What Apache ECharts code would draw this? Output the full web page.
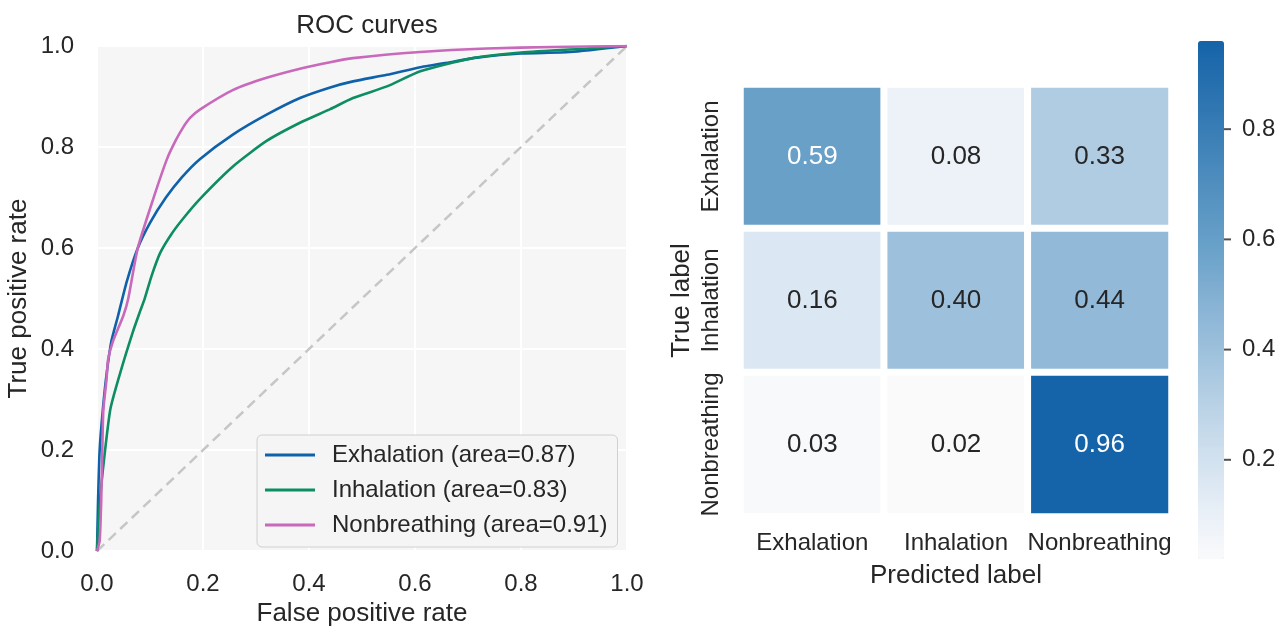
<!DOCTYPE html>
<html>
<head>
<meta charset="utf-8">
<script src="https://cdn.jsdelivr.net/npm/echarts@6/dist/echarts.min.js"></script>
<style>html,body{margin:0;padding:0;background:#fff}#c{width:1288px;height:632px}</style>
</head>
<body>
<div id="c"></div>
<script>
// ---- ROC data ----
const exhalationFpr = [0, 0.002, 0.005, 0.011, 0.018, 0.027, 0.04, 0.056, 0.077, 0.1, 0.13, 0.16, 0.194, 0.257, 0.32, 0.383, 0.44, 0.483, 0.547, 0.61, 0.672, 0.717, 0.80, 0.892, 1];
const exhalationTpr = [0, 0.10, 0.20, 0.28, 0.35, 0.415, 0.467, 0.533, 0.60, 0.65, 0.70, 0.74, 0.776, 0.825, 0.864, 0.897, 0.918, 0.93, 0.943, 0.958, 0.969, 0.977, 0.985, 0.988, 1];
const inhalationFpr = [0, 0.004, 0.011, 0.025, 0.043, 0.068, 0.081, 0.09, 0.103, 0.119, 0.14, 0.163, 0.194, 0.257, 0.32, 0.383, 0.44, 0.483, 0.547, 0.61, 0.704, 0.80, 0.925, 1];
const inhalationTpr = [0, 0.08, 0.16, 0.28, 0.35, 0.435, 0.474, 0.50, 0.545, 0.59, 0.627, 0.659, 0.697, 0.762, 0.812, 0.848, 0.875, 0.897, 0.92, 0.95, 0.975, 0.987, 0.995, 1];
const nonbreathingFpr = [0, 0.005, 0.008, 0.01, 0.012, 0.018, 0.021, 0.03, 0.05, 0.059, 0.077, 0.106, 0.132, 0.148, 0.162, 0.176, 0.194, 0.257, 0.32, 0.383, 0.44, 0.483, 0.61, 0.736, 0.86, 1];
const nonbreathingTpr = [0, 0.02, 0.10, 0.20, 0.28, 0.34, 0.38, 0.415, 0.467, 0.50, 0.60, 0.697, 0.776, 0.812, 0.838, 0.858, 0.874, 0.913, 0.937, 0.955, 0.968, 0.976, 0.988, 0.995, 0.998, 1];
const rocNames = ['Exhalation (area=0.87)', 'Inhalation (area=0.83)', 'Nonbreathing (area=0.91)'];

// ---- confusion matrix ----
const classes = ['Exhalation', 'Inhalation', 'Nonbreathing'];
const matrixRows = [
  [0.59, 0.08, 0.33],
  [0.16, 0.40, 0.44],
  [0.03, 0.02, 0.96]
];
const colorbarMin = 0.02, colorbarMax = 0.96;
const colorbarTicks = [0.2, 0.4, 0.6, 0.8];

const zip = (a, b) => a.map((v, i) => [v, b[i]]);
const heatData = [];
matrixRows.forEach((row, r) => row.forEach((v, c) => heatData.push([c, r, v])));

const FONT = '"Liberation Sans", Arial, sans-serif';
const TXT = '#262626';
const colors = ['#0f61a9', '#0d8d63', '#c869bb'];

const chart = echarts.init(document.getElementById('c'));
chart.setOption({
  backgroundColor: '#ffffff',
  animation: false,
  textStyle: { fontFamily: FONT, color: TXT },
  title: {
    text: 'ROC curves', left: 362, top: 8, textAlign: 'center',
    textStyle: { fontFamily: FONT, fontSize: 26, fontWeight: 'normal', color: TXT }
  },
  legend: {
    data: rocNames, orient: 'vertical', left: 257, top: 435,
    icon: 'rect', itemWidth: 50, itemHeight: 3, itemGap: 11,
    padding: [8, 10, 10, 8],
    backgroundColor: '#f5f5f5', borderColor: '#d0d0d0', borderWidth: 1, borderRadius: 5,
    textStyle: { fontFamily: FONT, fontSize: 24, lineHeight: 24, color: TXT, padding: [0, 0, 0, 12] }
  },
  grid: [
    { left: 97, top: 46, width: 530, height: 508, show: true, backgroundColor: '#f6f6f6', borderWidth: 0 },
    { left: 740.5, top: 84.5, width: 431, height: 432 },
    { left: 1198, top: 41, width: 26, height: 518 }
  ],
  xAxis: [
    { gridIndex: 0, type: 'value', min: 0, max: 1, interval: 0.2,
      name: 'False positive rate', nameLocation: 'middle', nameGap: 43,
      nameTextStyle: { fontFamily: FONT, fontSize: 26, color: TXT },
      axisLine: { show: false }, axisTick: { show: false },
      axisLabel: { fontFamily: FONT, fontSize: 24, color: TXT, margin: 21, formatter: v => v.toFixed(1) },
      splitLine: { show: true, lineStyle: { color: '#ffffff', width: 2 } } },
    { gridIndex: 1, type: 'category', data: classes,
      name: 'Predicted label', nameLocation: 'middle', nameGap: 46,
      nameTextStyle: { fontFamily: FONT, fontSize: 26, color: TXT },
      axisLine: { show: false }, axisTick: { show: false },
      axisLabel: { fontFamily: FONT, fontSize: 24, color: TXT, margin: 15, interval: 0 },
      splitLine: { show: false }, splitArea: { show: false } },
    { gridIndex: 2, type: 'value', min: 0, max: 1, show: false }
  ],
  yAxis: [
    { gridIndex: 0, type: 'value', min: 0, max: 1, interval: 0.2,
      name: 'True positive rate', nameLocation: 'middle', nameGap: 65,
      nameTextStyle: { fontFamily: FONT, fontSize: 26, color: TXT },
      axisLine: { show: false }, axisTick: { show: false },
      axisLabel: { fontFamily: FONT, fontSize: 24, color: TXT, margin: 23, formatter: v => v.toFixed(1) },
      splitLine: { show: true, lineStyle: { color: '#ffffff', width: 2 } } },
    { gridIndex: 1, type: 'category', data: classes, inverse: true,
      name: 'True label', nameLocation: 'middle', nameGap: 46,
      nameTextStyle: { fontFamily: FONT, fontSize: 26, color: TXT },
      axisLine: { show: false }, axisTick: { show: false },
      axisLabel: { fontFamily: FONT, fontSize: 24, color: TXT, margin: 17, rotate: 90, interval: 0 },
      splitLine: { show: false }, splitArea: { show: false } },
    { gridIndex: 2, type: 'value', min: colorbarMin, max: colorbarMax, position: 'right',
      axisLine: { show: false },
      axisTick: { show: false },
      axisLabel: { fontFamily: FONT, fontSize: 24, color: TXT, margin: 18, customValues: colorbarTicks, formatter: v => v.toFixed(1) },
      splitLine: { show: false } }
  ],
  visualMap: {
    type: 'continuous', min: colorbarMin, max: colorbarMax, seriesIndex: 4,
    calculable: false, orient: 'vertical', left: 1198, top: 41, padding: 0,
    itemWidth: 26, itemHeight: 518, text: null, showLabel: false, hoverLink: false,
    inRange: { color: ['#fafafb', '#e6eef6', '#d0e0ee', '#b8d1e5', '#9ec1dc', '#85b1d3', '#69a1c9', '#5592c1', '#3f82b8', '#2a72b0', '#1563a8'] }
  },
  series: [
    { type: 'line', xAxisIndex: 0, yAxisIndex: 0, data: [[0, 0], [1, 1]], showSymbol: false, silent: true,
      lineStyle: { color: '#c6c6c6', width: 2.5, type: [10, 6] }, z: 1 },
    { name: rocNames[0], type: 'line', xAxisIndex: 0, yAxisIndex: 0, data: zip(exhalationFpr, exhalationTpr),
      showSymbol: false, smooth: 0.2, color: colors[0], lineStyle: { width: 2.6 }, z: 3 },
    { name: rocNames[1], type: 'line', xAxisIndex: 0, yAxisIndex: 0, data: zip(inhalationFpr, inhalationTpr),
      showSymbol: false, smooth: 0.2, color: colors[1], lineStyle: { width: 2.6 }, z: 3 },
    { name: rocNames[2], type: 'line', xAxisIndex: 0, yAxisIndex: 0, data: zip(nonbreathingFpr, nonbreathingTpr),
      showSymbol: false, smooth: 0.2, color: colors[2], lineStyle: { width: 2.6 }, z: 3 },
    { type: 'heatmap', xAxisIndex: 1, yAxisIndex: 1, data: heatData,
      itemStyle: { borderColor: '#ffffff', borderWidth: 7 },
      emphasis: { disabled: true },
      label: { show: true, fontFamily: FONT, fontSize: 26,
        formatter: p => (p.value[2] > 0.5 ? '{w|' : '{d|') + p.value[2].toFixed(2) + '}',
        rich: { w: { color: '#ffffff', fontSize: 26, fontFamily: FONT }, d: { color: TXT, fontSize: 26, fontFamily: FONT } } } },
    { type: 'scatter', xAxisIndex: 2, yAxisIndex: 2, silent: true,
      data: colorbarTicks.map(v => [1, v]),
      symbol: 'rect', symbolSize: [7, 2], symbolOffset: [3.5, 0],
      itemStyle: { color: TXT }, z: 10 }
  ]
});
</script>
</body>
</html>
